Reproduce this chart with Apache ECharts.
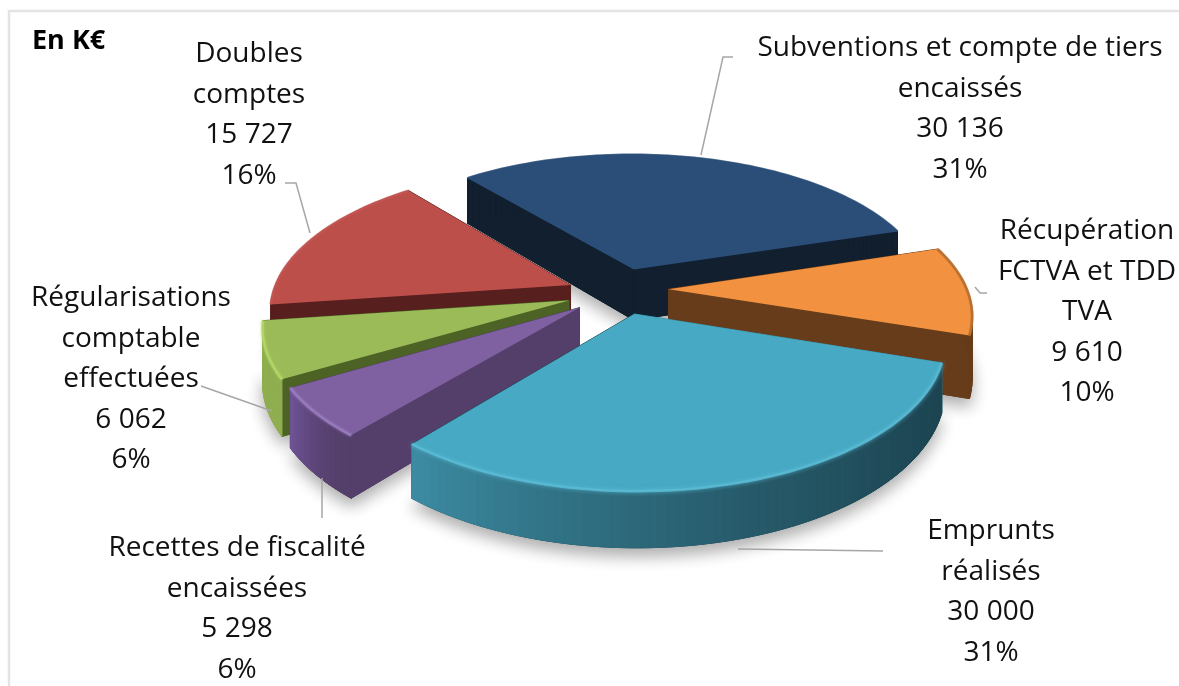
<!DOCTYPE html>
<html><head><meta charset="utf-8">
<style>html,body{margin:0;padding:0;background:#fff}#c{width:1179px;height:686px}</style>
<script src="https://cdn.jsdelivr.net/npm/echarts@6/dist/echarts.min.js"></script>
</head><body><div id="c"></div>
<script>
// ---- data ----
const categories = ['Subventions et compte de tiers\nencaissés','Récupération\nFCTVA et TDD\nTVA','Emprunts\nréalisés','Recettes de fiscalité\nencaissées','Régularisations\ncomptable\neffectuées','Doubles\ncomptes'];
const amounts = [30136, 9610, 30000, 5298, 6062, 15727];
const percentLabels = ['31%','10%','31%','6%','6%','16%'];
const unitLabel = 'En K€';
// ---- styles ----
const topColors  = ['#2b4e78','#f29240','#47a9c3','#7f60a0','#9bbb59','#bd4f4b'];
const rimColors  = ['#2c507b','#b9702f','#5cbcd6','#9a7cc0','#b4d768','#c65753'];
const rimGlow    = [0,1,4,3,3,0];
const faceStart  = ['#111f2e','#673c1b','#3a8ba1','#543f6a','#4c6325','#571f1e'];
const faceEnd    = ['#111f2e','#673c1b','#1d4552','#543f6a','#4c6325','#571f1e'];
const arcStart   = ['#111f2e','#673c1b','#1d4552','#543f6a','#8fae50','#571f1e'];
const arcEnd     = ['#111f2e','#673c1b','#3d8da4','#71559a','#8fae50','#571f1e'];
const paintOrder = [0,5,1,4,3,2];
// ---- layout ----
const startDeg = -39.5, hub = [617,290], rx = 298, ry = 140, persp = 0.16, explode = 0.18;
const sliceDepth = [52,60,46,54,52,48];
const sliceNudge = [[2,3],[-2,-1],[2,-1],[4,1],[3,2],[3,4]];
const labelPos = [[960,28],[1087,211],[991,511],[237,528],[131,278],[249,34]];
const leaders = [
  [[701,155],[723,57],[733,57]],
  [[975,287],[980,293],[987,293]],
  [[738,549],[883,551]],
  [[322,478],[322,518]],
  [[272,411],[201,386]],
  [[310,233],[296,183],[285,183]]
];
const labelFont = '"Open Sans", sans-serif';

const fmt = v => String(v).replace(/\B(?=(\d{3})+$)/g,' ');
const total = amounts.reduce((a,b)=>a+b,0);
function lerpColor(a,b,t){
  const p=h=>[1,3,5].map(i=>parseInt(h.substr(i,2),16));
  const A=p(a),B=p(b);
  return 'rgb('+A.map((v,i)=>Math.round(v+(B[i]-v)*t)).join(',')+')';
}
function project(i,aDeg,r,mid,z){
  const a=aDeg*Math.PI/180,m=mid*Math.PI/180;
  const X=r*Math.sin(a)+explode*Math.sin(m), Y=-r*Math.cos(a)-explode*Math.cos(m);
  const w=1/(1-persp*Y);
  return [hub[0]+sliceNudge[i][0]+rx*X*w, hub[1]+sliceNudge[i][1]+ry*Y*w+z*sliceDepth[i]*w];
}
function poly(points,fill,z2,extra){
  return {type:'polygon',z2,shape:{points},style:Object.assign({fill,stroke:fill,lineWidth:1},extra||{}),silent:true};
}
function renderItem(params,api){
  const i=params.dataIndex, children=[];
  let acc=0; for(let k=0;k<i;k++) acc+=amounts[k];
  const a0=startDeg+acc/total*360, a1=startDeg+(acc+api.value(0))/total*360, mid=(a0+a1)/2;
  const base=paintOrder.indexOf(i)*100+10;
  const N=Math.ceil((a1-a0)/1.5), top=[], bot=[];
  for(let k=0;k<=N;k++){const a=a0+(a1-a0)*k/N; top.push(project(i,a,1,mid,0)); bot.push(project(i,a,1,mid,1));}
  const apexT=project(i,0,0,mid,0), apexB=project(i,0,0,mid,1);
  children.push(poly([apexB].concat(bot),arcStart[i],base,{shadowBlur:16,shadowOffsetY:8,shadowColor:'rgba(0,0,0,0.32)'}));
  children.push(poly([apexT,top[0],bot[0],apexB],faceStart[i],base+1));
  children.push(poly([apexT,top[N],bot[N],apexB],faceEnd[i],base+1));
  for(let k=0;k<N;k++){
    children.push(poly([top[k],top[k+1],bot[k+1],bot[k]],lerpColor(arcStart[i],arcEnd[i],Math.pow(k/N,1.6)),base+2));
  }
  children.push(poly([apexT].concat(top),topColors[i],base+3,{lineWidth:0}));
  children.push({type:'polyline',z2:base+4,silent:true,shape:{points:top},style:{fill:null,stroke:rimColors[i],lineWidth:2.5,opacity:0.85,shadowBlur:rimGlow[i],shadowColor:rimColors[i]}});
  children.push({type:'polyline',z2:2000,silent:true,shape:{points:leaders[i]},style:{fill:null,stroke:'#a6a6a6',lineWidth:1.5}});
  children.push({type:'text',z2:2001,silent:true,x:labelPos[i][0],y:labelPos[i][1],style:{
    text:categories[i]+'\n'+fmt(amounts[i])+'\n'+percentLabels[i],
    fontFamily:labelFont,fontSize:28,lineHeight:40.5,fill:'#111',align:'center',verticalAlign:'top'}});
  return {type:'group',children};
}
const chart=echarts.init(document.getElementById('c'),null,{renderer:'canvas'});
chart.setOption({
  animation:false,
  backgroundColor:'#fff',
  graphic:[
    {type:'polyline',z:0,shape:{points:[[9,686],[9,11],[1179,11]]},style:{fill:null,stroke:'#e4e4e4',lineWidth:2.5}},
    {type:'text',z:10,x:32,y:28,style:{text:unitLabel,fontFamily:labelFont,fontWeight:'bold',fontSize:27,fill:'#000'}}
  ],
  series:[{type:'custom',coordinateSystem:'none',renderItem,data:amounts,silent:true}]
});
</script></body></html>
